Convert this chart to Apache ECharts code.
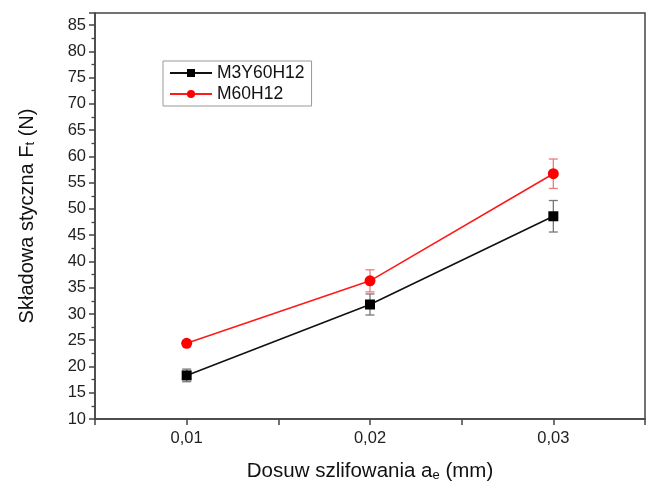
<!DOCTYPE html>
<html><head><meta charset="utf-8">
<script src="https://cdn.jsdelivr.net/npm/echarts@6/dist/echarts.min.js"></script>
<style>html,body{margin:0;padding:0;background:#fff}#c{width:648px;height:487px}</style>
</head><body><div id="c"></div>
<script>
var xValues = [0.01, 0.02, 0.03];
var seriesNames = ['M3Y60H12', 'M60H12'];
var m3yValues = [18.3, 31.8, 48.6];
var m3yErrors = [1.2, 2.0, 3.0];
var m60Values = [24.4, 36.3, 56.7];
var m60Errors = [0.5, 2.1, 2.8];
var xTicks = [0.01, 0.02, 0.03];

function pts(vals){ return xValues.map(function(x,i){return [x, vals[i]];}); }
function errData(vals, errs){ return xValues.map(function(x,i){return [x, vals[i]-errs[i], vals[i]+errs[i]];}); }
function errSeries(vals, errs, color){
  return {
    type:'custom', silent:true, z:1,
    data: errData(vals, errs),
    renderItem: function(params, api){
      var x = api.value(0);
      var lo = api.coord([x, api.value(1)]);
      var hi = api.coord([x, api.value(2)]);
      var w = 4.5;
      var st = {stroke: color, lineWidth: 1.3};
      return {type:'group', children:[
        {type:'line', shape:{x1:lo[0],y1:lo[1],x2:hi[0],y2:hi[1]}, style:st},
        {type:'line', shape:{x1:lo[0]-w,y1:lo[1],x2:lo[0]+w,y2:lo[1]}, style:st},
        {type:'line', shape:{x1:hi[0]-w,y1:hi[1],x2:hi[0]+w,y2:hi[1]}, style:st}
      ]};
    }
  };
}
var chart = echarts.init(document.getElementById('c'));
var font = 'Liberation Sans, Arial, sans-serif';
var subStyle = {fontFamily:font, fontSize:13, color:'#111', verticalAlign:'bottom', lineHeight:13};
chart.setOption({
  animation:false,
  grid:{left:95, right:3, top:13, bottom:67, show:true, borderColor:'#444', borderWidth:1.5, backgroundColor:'transparent'},
  legend:{
    left:163, top:61, orient:'vertical', itemGap:3, itemWidth:42, itemHeight:10,
    padding:[3,7,3,6], borderColor:'#999', borderWidth:1,
    textStyle:{fontFamily:font, fontSize:17.5, color:'#111'},
    data: seriesNames
  },
  xAxis:{
    type:'value', min:0.005, max:0.035, interval:0.005,
    axisLine:{lineStyle:{color:'#444', width:1.5}},
    axisTick:{show:true, length:6, lineStyle:{color:'#444', width:1.5}},
    minorTick:{show:false},
    splitLine:{show:false},
    axisLabel:{fontFamily:font, fontSize:16.5, color:'#222', margin:11,
      formatter:function(v){
        var r = Math.round(v*1000)/1000;
        for (var i=0;i<xTicks.length;i++){ if (Math.abs(xTicks[i]-r)<1e-9) return String(xTicks[i]).replace('.', ','); }
        return '';
      }},
    name:'Dosuw szlifowania a{s|e} (mm)', nameLocation:'middle', nameGap:42,
    nameTextStyle:{fontFamily:font, fontSize:20.5, color:'#111', rich:{s:subStyle}}
  },
  yAxis:{
    type:'value', min:10, max:87.3, interval:5,
    axisLine:{lineStyle:{color:'#444', width:1.5}},
    axisTick:{show:true, length:6, lineStyle:{color:'#444', width:1.5}},
    minorTick:{show:true, splitNumber:2, length:3.5, lineStyle:{color:'#444', width:1.3}},
    splitLine:{show:false},
    axisLabel:{fontFamily:font, fontSize:16.5, color:'#222', margin:9,
      formatter:function(v){ return (v%5===0 && v<=85) ? String(v) : ''; }},
    name:'Składowa styczna F{s|t} (N)', nameLocation:'middle', nameGap:58,
    nameTextStyle:{fontFamily:font, fontSize:20, color:'#111', rich:{s:subStyle}}
  },
  series:[
    errSeries(m3yValues, m3yErrors, '#777'),
    errSeries(m60Values, m60Errors, '#f07a7a'),
    {name:seriesNames[0], type:'line', data:pts(m3yValues), symbol:'rect', symbolSize:10, z:3,
     lineStyle:{color:'#111', width:1.6}, itemStyle:{color:'#000'}},
    {name:seriesNames[1], type:'line', data:pts(m60Values), symbol:'circle', symbolSize:11, z:3,
     lineStyle:{color:'#ff1a1a', width:1.6}, itemStyle:{color:'#ff0000'}}
  ]
});
</script></body></html>
